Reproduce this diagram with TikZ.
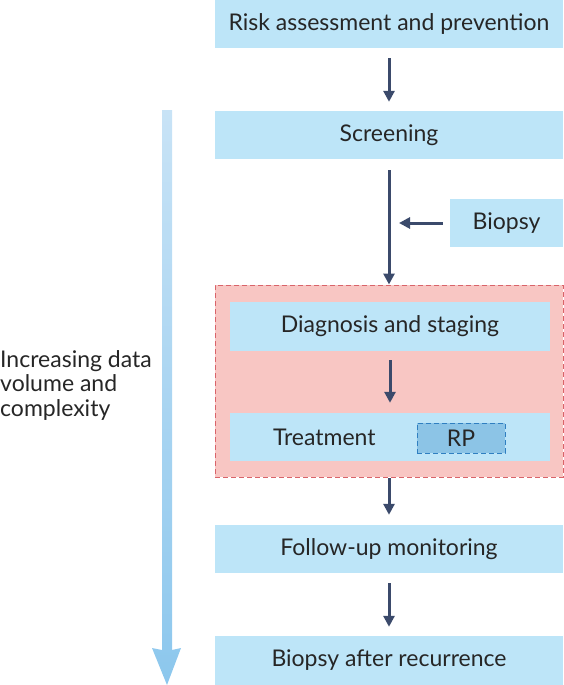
\documentclass[tikz,border=0pt]{standalone}
\usepackage{fontspec}
\setmainfont{Lato}
\usepackage{xcolor}
\usetikzlibrary{arrows.meta}
\definecolor{boxblue}{HTML}{BDE5F8}
\definecolor{rpblue}{HTML}{8CC4E6}
\definecolor{rpedge}{HTML}{2F7FC1}
\definecolor{carered}{HTML}{F8C6C3}
\definecolor{careedge}{HTML}{D9646A}
\definecolor{flowcol}{HTML}{3B4A6B}
\definecolor{gradtop}{HTML}{C8E3F6}
\definecolor{gradbot}{HTML}{8CC7ED}

\begin{document}
\begin{tikzpicture}[x=1pt, y=-1pt,
  stage/.style={rectangle, fill=boxblue, minimum width=348pt, minimum height=48pt, inner sep=0pt, font=\fontsize{23}{26}\selectfont, text=black!85},
  flow/.style={-{Triangle[width=11pt, length=11pt]}, line width=3pt, draw=flowcol}]
  \useasboundingbox (0,0) rectangle (564,685);
  \node (care) [rectangle, fill=carered, draw=careedge, dash pattern=on 5pt off 3pt, line width=1pt, minimum width=348pt, minimum height=192pt] at (389,381) {};
  \node (risk) [stage] at (389,24) {Risk assessment and prevention};
  \node (screen) [stage] at (389,135) {Screening};
  \node (biopsy) [stage, minimum width=113pt] at (506.5,223) {Biopsy};
  \node (diag) [stage, minimum width=320pt, minimum height=49pt] at (390,326.5) {Diagnosis and staging};
  \node (treat) [stage, minimum width=320pt, text width=234pt, inner xsep=43pt, align=left] at (390,437) {Treatment};
  \node (rp) [stage, fill=rpblue, draw=rpedge, dash pattern=on 5pt off 3pt, line width=1pt, minimum width=88pt, minimum height=30pt] at (461,438) {RP};
  \node (follow) [stage] at (389,549) {Follow-up monitoring};
  \node (recur) [stage, minimum height=49pt] at (389,660.5) {Biopsy after recurrence};
  \coordinate (join) at (screen.south |- biopsy.west);
  \draw[flow, shorten <=10pt, shorten >=9pt] (risk) -- (screen);
  \draw[flow, shorten <=11pt] (screen) -- (care);
  \draw[flow, shorten <=7pt, shorten >=10pt] (biopsy) -- (join);
  \draw[flow, shorten <=9pt, shorten >=10pt] (diag) -- (treat);
  \draw[flow, shorten >=10pt] (care) -- (follow);
  \draw[flow, shorten <=10pt, shorten >=9pt] (follow) -- (recur);
  \shade[top color=gradtop, bottom color=gradbot] (162,110) -- (172,110) -- (172,650) -- (181,648) -- (167,685) -- (152,648) -- (162,650) -- cycle;
  \node (volume) [anchor=north west, align=left, inner sep=0pt, font=\fontsize{23}{24.5}\selectfont, text=black!85] at (0,350) {Increasing data\\volume and\\complexity};
\end{tikzpicture}
\end{document}
